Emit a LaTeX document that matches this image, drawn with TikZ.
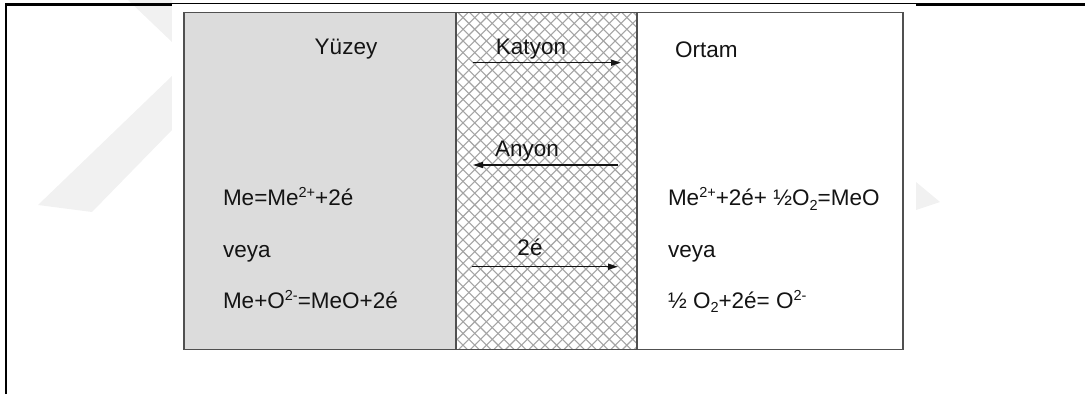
\documentclass[tikz,border=0pt]{standalone}
\usepackage{fontspec}
\setmainfont{Liberation Sans}
\usetikzlibrary{arrows.meta}
\definecolor{panelgray}{HTML}{DCDCDC}
\definecolor{edgegray}{HTML}{505050}
\definecolor{hatchgray}{HTML}{A4A4A4}
\definecolor{markgray}{HTML}{F1F1F1}
\definecolor{inkblack}{HTML}{141414}
% raised / lowered small figures for charges and indices
\newcommand{\chg}[1]{\raisebox{0.36em}{\fontsize{14.5}{14.5}\selectfont #1}}
\newcommand{\idx}[1]{\raisebox{-0.2em}{\fontsize{14.5}{14.5}\selectfont #1}}
\begin{document}
\begin{tikzpicture}[x=1pt,y=-1pt,
  txt/.style={inner sep=0pt, outer sep=0pt, text=inkblack, font=\fontsize{22.5}{25}\selectfont},
  lbl/.style={txt, anchor=base west},
  clbl/.style={txt, anchor=base},
  flow/.style={line width=1.4pt, draw=inkblack, -{Triangle[length=10pt,width=6pt]}},
  panel/.style={draw=edgegray, line width=1.5pt},
  hatch/.style={draw=hatchgray, line width=1.1pt}]
\useasboundingbox (0,0) rectangle (1085,394);

% faint background emblem
\fill[markgray] (128,0) -- (172,0) -- (172,42) -- cycle;
\fill[markgray] (38,205) -- (92,212) -- (172,130) -- (172,76) -- cycle;
\fill[markgray] (916,182) -- (940,202) -- (916,210) -- cycle;

% page frame
\draw[line width=2.2pt, black] (6,394) -- (6,4.5) -- (1085,4.5);
\fill[white] (172,4.3) rectangle (916,394);

% three zones
\fill[panelgray] (184,12.3) rectangle (456,349.3);
\begin{scope}
  \clip (456,12.3) rectangle (637,349.3);
  \foreach \c in {36,47.7,...,1060} {
    \draw[hatch] (\c,0) -- ++(400,400);
    \draw[hatch] (\c,0) -- ++(-400,400);
  }
\end{scope}
\draw[panel] (184,12.3) rectangle (903,349.3);
\draw[panel] (456,12.3) -- (456,349.3);
\draw[panel] (637,12.3) -- (637,349.3);

% headings
\node[clbl] (yuzey) at (346,54.3) {Yüzey};
\node[lbl]  (ortam) at (675,57.3) {Ortam};

% transport arrows
\coordinate (katL) at (473,62.7);
\coordinate (katR) at (621,62.7);
\coordinate (anyL) at (473,165);
\coordinate (anyR) at (618,165);
\coordinate (elL)  at (472,266.7);
\coordinate (elR)  at (618,266.7);
\draw[flow] (katL) -- (katR);
\draw[flow] (anyR) -- (anyL);
\draw[flow] (elL) -- (elR);
\node[clbl] (katyon) at (531,54) {Katyon};
\node[clbl] (anyon)  at (527,156) {Anyon};
\node[clbl] (elec)   at (530,255.7) {2é};

% surface reactions
\node[lbl] (s1) at (223,205.7) {Me=Me\chg{2+}+2é};
\node[lbl] (s2) at (223,257.3) {veya};
\node[lbl] (s3) at (223,308.3) {Me+O\chg{2-}=MeO+2é};

% medium reactions
\node[lbl] (m1) at (668,205.7) {Me\chg{2+}+2é+ ½O\idx{2}=MeO};
\node[lbl] (m2) at (668,257.3) {veya};
\node[lbl] (m3) at (668,308.3) {½ O\idx{2}+2é= O\chg{2-}};
\end{tikzpicture}
\end{document}
